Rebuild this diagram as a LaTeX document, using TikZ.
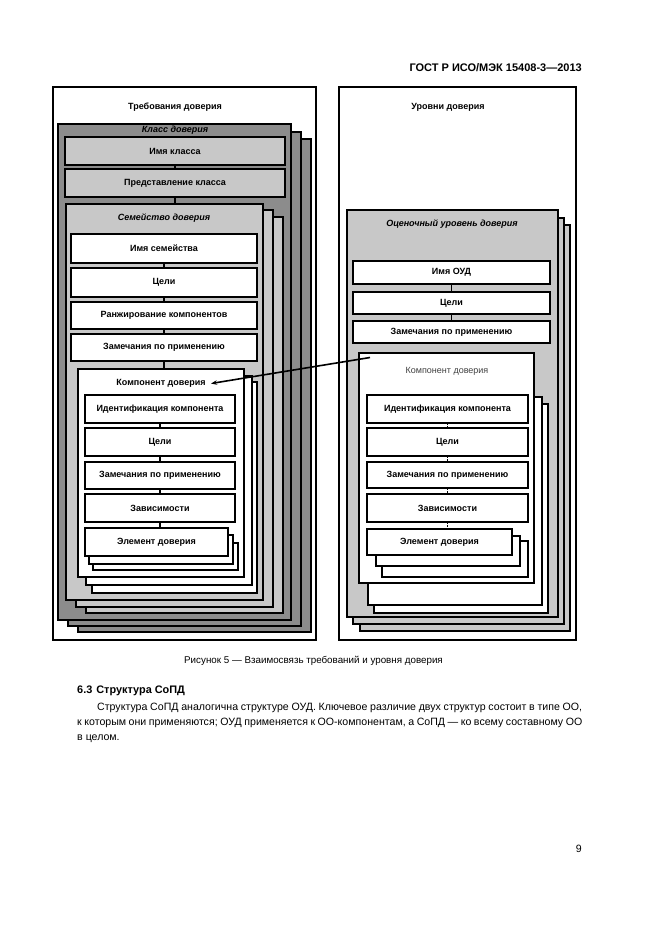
\documentclass[tikz,border=0pt]{standalone}
\usepackage{fontspec}
\setmainfont{Liberation Sans}
\usetikzlibrary{arrows.meta}
\definecolor{dkgray}{HTML}{8C8C8C}
\definecolor{ltgray}{HTML}{C8C8C8}
\definecolor{txtgray}{HTML}{404040}
\newcommand\bx[7]{\node[#6, anchor=north west, minimum width={#4-#2}, minimum height={#5-#3}] (#1) at (#2,#3) {#7};}
\tikzset{
  box/.style={draw, line width=2.2pt, inner sep=0pt, outer sep=0pt, font=\bfseries\fontsize{9}{10}\selectfont},
  dk/.style={box, fill=dkgray},
  lt/.style={box, fill=ltgray},
  wh/.style={box, fill=white},
  panel/.style={draw, line width=1.8pt, fill=white, inner sep=0pt, outer sep=0pt},
  lbl/.style={inner sep=0pt, font=\bfseries\itshape\fontsize{9}{10}\selectfont},
  ttl/.style={inner sep=0pt, font=\bfseries\fontsize{9}{10}\selectfont},
  conn/.style={line width=1.4pt},
  dconn/.style={line width=1.4pt, dash pattern=on 1.5pt off 1.5pt},
  body/.style={inner sep=0pt, anchor=base west, font=\fontsize{10.6}{12}\selectfont},
}
\begin{document}
\begin{tikzpicture}[x=1pt,y=-1pt]
\useasboundingbox (0,0) rectangle (661,935);
\fill[white] (0,0) rectangle (661,935);
% header
\node[inner sep=0pt, anchor=east, font=\bfseries\fontsize{11}{13}\selectfont] (hdr) at (582,68) {ГОСТ Р ИСО/МЭК 15408-3—2013};
% panels
\bx{lpanel}{53}{87}{316}{640}{panel}{}
\bx{rpanel}{339}{87}{576}{640}{panel}{}
\node[ttl] (ltitle) at (175,107) {Требования доверия};
\node[ttl] (rtitle) at (448,107) {Уровни доверия};
% ---- left: class
\bx{cls3}{78}{139}{311}{632}{dk}{}
\bx{cls2}{68}{132}{301}{626}{dk}{}
\bx{cls1}{58}{124}{291}{620}{dk}{}
\node[lbl] (clslbl) at (175,130.5) {Класс доверия};
\bx{clsname}{65}{137}{285}{165}{lt}{Имя класса}
\bx{clsrep}{65}{169}{285}{197}{lt}{Представление класса}
\bx{fam3}{86}{217}{283}{613}{lt}{}
\bx{fam2}{76}{210}{273}{607}{lt}{}
\bx{fam1}{66}{204}{263}{600}{lt}{}
\node[lbl] (famlbl) at (164,218) {Семейство доверия};
\bx{famname}{71}{234}{257}{263}{wh}{Имя семейства}
\bx{famgoal}{71}{268}{257}{297}{wh}{Цели}
\bx{famrank}{71}{302}{257}{329}{wh}{Ранжирование компонентов}
\bx{famnote}{71}{334}{257}{361}{wh}{Замечания по применению}
\bx{comp3}{92}{382}{257}{593}{wh}{}
\bx{comp2}{86}{376}{252}{585}{wh}{}
\bx{comp1}{78}{369}{244}{577}{wh}{}
\node[ttl] (complbl) at (161,383) {Компонент доверия};
\bx{cid}{85}{395}{235}{423}{wh}{Идентификация компонента}
\bx{cgoal}{85}{428}{235}{456}{wh}{Цели}
\bx{cnote}{85}{462}{235}{489}{wh}{Замечания по применению}
\bx{cdep}{85}{494}{235}{522}{wh}{Зависимости}
\bx{el3}{93}{543}{238}{570}{wh}{}
\bx{el2}{89}{535}{233}{564}{wh}{}
\bx{el1}{85}{528}{228}{556}{wh}{Элемент доверия}
% left connectors
\draw[conn] (clsname.south) -- (clsrep.north);
\draw[conn] (clsrep.south) -- (clsrep.south |- fam1.north);
\draw[conn] (famname.south) -- (famgoal.north);
\draw[conn] (famgoal.south) -- (famrank.north);
\draw[conn] (famrank.south) -- (famnote.north);
\draw[conn] (famnote.south) -- (famnote.south |- comp1.north);
\draw[conn] (cid.south) -- (cgoal.north);
\draw[conn] (cgoal.south) -- (cnote.north);
\draw[conn] (cnote.south) -- (cdep.north);
\draw[conn] (cdep.south) -- (cdep.south |- el1.north);
% ---- right: EAL
\bx{eal3}{360}{225}{570}{631}{lt}{}
\bx{eal2}{353}{218}{564}{624}{lt}{}
\bx{eal1}{347}{210}{558}{617}{lt}{}
\node[lbl] (eallbl) at (452,224) {Оценочный уровень доверия};
\bx{ealname}{353}{261}{550}{284}{wh}{Имя ОУД}
\bx{ealgoal}{353}{292}{550}{314}{wh}{Цели}
\bx{ealnote}{353}{321}{550}{343}{wh}{Замечания по применению}
\bx{rc3}{374}{404}{548}{613}{wh}{}
\bx{rc2}{368}{397}{542}{605}{wh}{}
\bx{rc1}{359}{353}{534}{583}{wh}{}
\node[inner sep=0pt, text=txtgray, font=\fontsize{9}{10}\selectfont] (rcomplbl) at (447,371) {Компонент доверия};
\bx{rid}{367}{395}{528}{423}{wh}{Идентификация компонента}
\bx{rgoal}{367}{428}{528}{456}{wh}{Цели}
\bx{rnote}{367}{462}{528}{488}{wh}{Замечания по применению}
\bx{rdep}{367}{494}{528}{522}{wh}{Зависимости}
\bx{rel3}{382}{541}{528}{577}{wh}{}
\bx{rel2}{376}{536}{520}{566}{wh}{}
\bx{rel1}{367}{529}{512}{555}{wh}{Элемент доверия}
% right connectors
\draw[conn] (ealname.south) -- (ealgoal.north);
\draw[conn] (ealgoal.south) -- (ealnote.north);
\draw[dconn] (rid.south) -- (rgoal.north);
\draw[dconn] (rgoal.south) -- (rnote.north);
\draw[dconn] (rnote.south) -- (rdep.north);
\draw[dconn] (rdep.south) -- (rdep.south |- rel1.north);
% arrow
\coordinate (arrS) at (370,357.5);
\coordinate (arrE) at (211,383.5);
\draw[line width=1.6pt, -{Stealth[length=6pt,width=4.5pt]}] (arrS) -- (arrE);
% caption and text
\node[inner sep=0pt, font=\fontsize{9.8}{11}\selectfont] (cap) at (313.5,661) {Рисунок 5 — Взаимосвязь требований и уровня доверия};
\node[inner sep=0pt, anchor=base west, font=\bfseries\fontsize{10.9}{12}\selectfont] (sec) at (77,693) {6.3\hspace{4pt}Структура СоПД};
\node[body] (l1) at (97,710) {\makebox[485pt][s]{Структура СоПД аналогична структуре ОУД. Ключевое различие двух структур состоит в типе ОО,}};
\node[body] (l2) at (77,725) {\makebox[505pt][s]{к которым они применяются; ОУД применяется к ОО-компонентам, а СоПД — ко всему составному ОО}};
\node[body] (l3) at (77,740) {в целом.};
\node[inner sep=0pt, anchor=base east, font=\fontsize{10.6}{12}\selectfont] (pg) at (582,852) {9};
\end{tikzpicture}
\end{document}
